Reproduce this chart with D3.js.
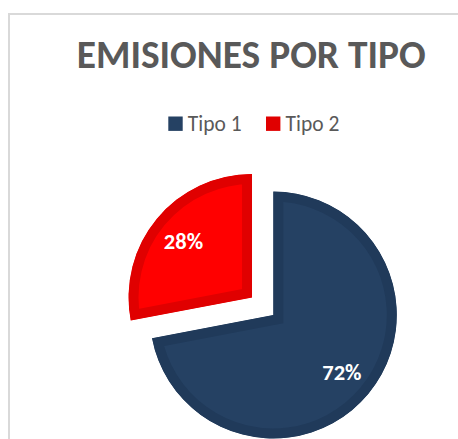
<!DOCTYPE html>
<html>
<head>
<meta charset="utf-8">
<script src="https://cdn.jsdelivr.net/npm/d3@7"></script>
<style>
  html, body { margin: 0; padding: 0; background: #fff; }
  svg { display: block; }
</style>
</head>
<body>
<svg id="chart" width="458" height="439"></svg>
<script>
const title = "EMISIONES POR TIPO";
const categories = ["Tipo 1", "Tipo 2"];
const values = [72, 28];
const fillColors = ["#254163", "#FF0000"];
const edgeColors = ["#203A5A", "#E00000"];

const W = 458, H = 439;
const svg = d3.select("#chart");
const font = "Calibri, Carlito, Lato, 'Open Sans', sans-serif";
const defs = svg.append("defs");

// chart area border
svg.append("rect")
  .attr("x", 9).attr("y", 14)
  .attr("width", W + 10).attr("height", H + 10)
  .attr("fill", "none").attr("stroke", "#D9D9D9").attr("stroke-width", 2);

// title
const t = svg.append("text")
  .attr("x", 251.2).attr("y", 67.7)
  .attr("text-anchor", "middle")
  .attr("font-family", font)
  .attr("font-weight", "bold")
  .attr("font-size", 30)
  .attr("fill", "#595959")
  .text(title);
const tw = t.node().getComputedTextLength();
t.attr("font-size", 30 * 349 / tw);

// legend
const legendX = [168.3, 266];
const leg = svg.append("g");
categories.forEach((c, i) => {
  leg.append("rect")
    .attr("x", legendX[i]).attr("y", 116.5)
    .attr("width", 14.4).attr("height", 14.4)
    .attr("fill", i === 0 ? fillColors[i] : edgeColors[i]);
  leg.append("text")
    .attr("x", legendX[i] + 19.5).attr("y", 130.5)
    .attr("font-family", font)
    .attr("font-size", 21.5)
    .attr("fill", "#595959")
    .text(c);
});

// pie
const cx = 273.3, cy = 315, R = 123.5, explode = 27.6;
const pie = d3.pie().sort(null).startAngle(0).endAngle(2 * Math.PI)(values);
const arc = d3.arc().innerRadius(0).outerRadius(R);
const labelArc = d3.arc().innerRadius(89).outerRadius(89);

const g = svg.append("g").attr("transform", `translate(${cx},${cy})`);

pie.forEach((d, i) => {
  const mid = (d.startAngle + d.endAngle) / 2;
  const off = i === 1 ? explode : 0;
  const dx = off * Math.sin(mid), dy = -off * Math.cos(mid);
  const sg = g.append("g").attr("transform", `translate(${dx},${dy})`);
  const p = arc(d);
  defs.append("clipPath").attr("id", "clip" + i)
    .append("path").attr("d", p);
  sg.append("path")
    .attr("d", p)
    .attr("fill", fillColors[i])
    .attr("stroke", edgeColors[i])
    .attr("stroke-width", 20)
    .attr("stroke-linejoin", "miter")
    .attr("clip-path", `url(#clip${i})`);
  const [lx, ly] = labelArc.centroid(d);
  const pct = Math.round(100 * d.value / d3.sum(values)) + "%";
  sg.append("text")
    .attr("x", lx).attr("y", ly)
    .attr("dy", "0.36em")
    .attr("text-anchor", "middle")
    .attr("font-family", font)
    .attr("font-weight", "bold")
    .attr("font-size", 22.5)
    .attr("fill", "#FFFFFF")
    .text(pct);
});
</script>
</body>
</html>
